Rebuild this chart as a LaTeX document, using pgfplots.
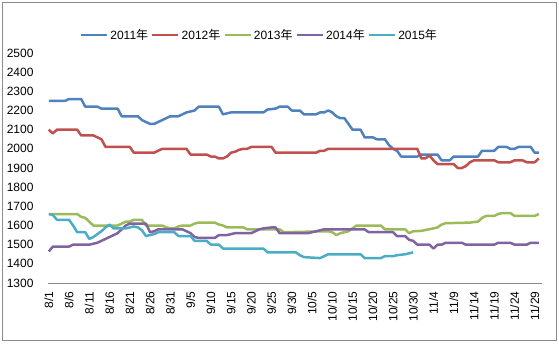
\documentclass[border=0pt]{standalone}
\usepackage{pgfplots}
\pgfplotsset{compat=1.18}
\usepackage{fontspec}
\setmainfont{Liberation Sans}
\newfontfamily\cjk{Noto Sans CJK SC}
\definecolor{c11}{HTML}{4F81BD}
\definecolor{c12}{HTML}{C0504D}
\definecolor{c13}{HTML}{9BBB59}
\definecolor{c14}{HTML}{8064A2}
\definecolor{c15}{HTML}{4BACC6}
\newcommand{\fs}{\fontsize{12}{14}\selectfont}
\begin{document}
\begin{tikzpicture}[x=1pt,y=1pt]
\path (0,0) rectangle (559,-343);
\draw[color=black!45, line width=0.8pt] (2,-2) rectangle (556,-340);
\begin{axis}[
  at={(48pt,-283pt)}, anchor=south west,
  scale only axis, width=494pt, height=230pt,
  xmin=-0.2, xmax=121.8, ymin=1300, ymax=2500,
  ytick={1300,1400,...,2500},
  xtick={0,5,...,120},
  xticklabels={8/1,8/6,8/11,8/16,8/21,8/26,8/31,9/5,9/10,9/15,9/20,9/25,9/30,10/5,10/10,10/15,10/20,10/25,10/30,11/4,11/9,11/14,11/19,11/24,11/29},
  /pgf/number format/assume math mode=true,
  /pgf/number format/1000 sep={},
  ticklabel style={font=\fs},
  yticklabel style={xshift=-11pt},
  xticklabel style={rotate=90, anchor=east, xshift=-5pt},
  axis line style={draw=none},
  tick style={draw=none},
  legend style={at={(0.428,1.078)}, anchor=center, draw=none, fill=none, font=\fs,
    legend columns=5, /tikz/every even column/.append style={column sep=1pt}},
  legend image code/.code={\draw[#1, line width=2.5pt] (0pt,0pt) -- (26pt,0pt);},
  every axis plot/.append style={line width=2.5pt, line join=round, no markers},
]
\draw[color=black!45, line width=0.8pt] (rel axis cs:0,0) -- (rel axis cs:1,0);
\addplot[c11] coordinates {(0,2250)(4,2250)(5,2260)(8,2260)(9,2220)(12,2220)(13,2210)(17,2210)(18,2170)(22,2170)(23,2150)(24,2140)(25,2130)(26,2130)(27,2140)(28,2150)(29,2160)(30,2170)(32,2170)(33,2180)(34,2190)(36,2200)(37,2220)(42,2220)(43,2180)(44,2185)(45,2190)(53,2190)(54,2205)(56,2210)(57,2220)(59,2220)(60,2200)(62,2200)(63,2180)(66,2180)(67,2190)(68,2190)(69,2200)(70,2190)(71,2170)(72,2160)(73,2160)(74,2130)(75,2100)(77,2100)(78,2060)(80,2060)(81,2050)(83,2050)(84,2020)(85,2000)(86,1990)(87,1960)(91,1960)(92,1970)(96,1970)(97,1940)(99,1940)(100,1960)(106,1960)(107,1990)(110,1990)(111,2010)(113,2010)(114,2000)(115,2000)(116,2010)(119,2010)(120,1980)(121,1980)};
\addlegendentry{2011{\cjk 年}}
\addplot[c12] coordinates {(0,2100)(1,2080)(2,2100)(7,2100)(8,2070)(11,2070)(12,2060)(13,2050)(14,2010)(20,2010)(21,1980)(26,1980)(27,1990)(28,2000)(34,2000)(35,1970)(39,1970)(40,1960)(41,1960)(42,1950)(43,1950)(44,1960)(45,1980)(46,1985)(47,1995)(48,2000)(49,2000)(50,2010)(55,2010)(56,1980)(66,1980)(67,1990)(68,1990)(69,2000)(91,2000)(92,1950)(93,1950)(94,1965)(95,1940)(96,1920)(100,1920)(101,1900)(102,1900)(103,1910)(104,1930)(105,1940)(110,1940)(111,1930)(114,1930)(115,1940)(117,1940)(118,1930)(120,1930)(121,1950)};
\addlegendentry{2012{\cjk 年}}
\addplot[c13] coordinates {(0,1660)(7,1660)(8,1645)(9,1640)(10,1620)(11,1600)(17,1600)(18,1610)(19,1620)(20,1620)(21,1630)(23,1630)(24,1600)(28,1600)(29,1590)(30,1585)(31,1585)(32,1595)(33,1600)(35,1600)(36,1610)(37,1615)(41,1615)(42,1605)(43,1600)(44,1590)(48,1590)(49,1580)(57,1580)(58,1565)(69,1570)(70,1565)(71,1550)(72,1560)(73,1565)(74,1570)(75,1585)(76,1600)(82,1600)(83,1580)(88,1580)(89,1560)(90,1570)(92,1572)(95,1585)(96,1590)(97,1605)(98,1612)(104,1615)(105,1618)(106,1620)(107,1640)(108,1650)(110,1650)(111,1660)(112,1665)(114,1665)(115,1650)(120,1650)(121,1660)};
\addlegendentry{2013{\cjk 年}}
\addplot[c14] coordinates {(0,1465)(1,1490)(5,1490)(6,1500)(10,1500)(11,1505)(12,1510)(13,1520)(14,1530)(15,1540)(16,1550)(17,1560)(18,1580)(19,1600)(20,1610)(24,1610)(25,1565)(26,1570)(27,1580)(33,1580)(34,1570)(35,1560)(36,1540)(37,1535)(41,1535)(42,1550)(44,1550)(45,1555)(46,1560)(50,1560)(51,1570)(52,1580)(53,1585)(55,1590)(56,1590)(57,1560)(64,1560)(65,1565)(66,1570)(67,1575)(68,1580)(78,1580)(79,1565)(85,1565)(86,1545)(88,1545)(89,1525)(90,1520)(91,1500)(94,1500)(95,1480)(96,1500)(97,1500)(98,1510)(102,1510)(103,1500)(110,1500)(111,1510)(114,1510)(115,1500)(118,1500)(119,1510)(121,1510)};
\addlegendentry{2014{\cjk 年}}
\addplot[c15] coordinates {(0,1660)(1,1655)(2,1630)(5,1630)(6,1600)(7,1565)(9,1565)(10,1530)(11,1540)(12,1555)(13,1570)(14,1590)(15,1605)(16,1585)(19,1585)(20,1590)(21,1595)(22,1590)(23,1575)(24,1545)(25,1550)(26,1555)(27,1565)(31,1565)(32,1545)(35,1545)(36,1520)(39,1520)(40,1500)(42,1500)(43,1480)(53,1480)(54,1460)(61,1460)(62,1445)(63,1435)(67,1430)(68,1440)(69,1450)(77,1450)(78,1430)(82,1430)(83,1440)(85,1440)(86,1445)(88,1450)(90,1460)};
\addlegendentry{2015{\cjk 年}}
\end{axis}
\end{tikzpicture}
\end{document}
